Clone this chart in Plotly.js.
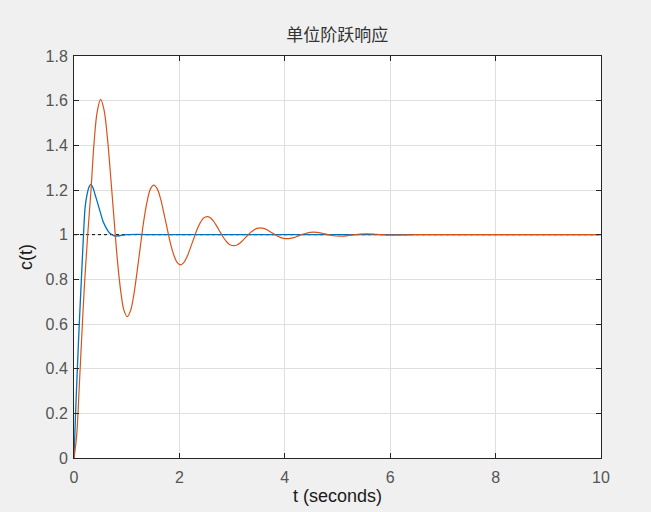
<!DOCTYPE html>
<html>
<head>
<meta charset="utf-8">
<script src="https://cdn.plot.ly/plotly-3.0.1.min.js"></script>
<style>html,body{margin:0;padding:0;background:#f0f0f0;}#chart{width:651px;height:512px;}</style>
</head>
<body>
<div id="chart"></div>
<script>
// System 1 (blue) step response
const tBlue = [0, 0.03, 0.06, 0.10, 0.14, 0.18, 0.21, 0.24, 0.28, 0.32, 0.36, 0.40, 0.45, 0.50, 0.55, 0.60, 0.65, 0.70, 0.78, 0.88, 1.00, 1.20, 1.50, 2, 3, 4, 5, 6, 7, 8, 9, 10];
const cBlue = [0, 0.20, 0.38, 0.60, 0.80, 1.00, 1.12, 1.17, 1.21, 1.225, 1.21, 1.18, 1.14, 1.10, 1.06, 1.035, 1.015, 1.003, 0.994, 0.996, 1.000, 1.001, 1.000, 1, 1, 1, 1, 1, 1, 1, 1, 1];

// System 2 (orange) step response
const tOrange = [0, 0.05, 0.10, 0.15, 0.20, 0.26, 0.32, 0.38, 0.44, 0.505, 0.568, 0.632, 0.694, 0.758, 0.820, 0.884, 0.947, 1.010, 1.073, 1.137, 1.199, 1.263, 1.325, 1.389, 1.451, 1.516, 1.578, 1.642, 1.704, 1.768, 1.830, 1.894, 1.956, 2.021, 2.083, 2.147, 2.209, 2.273, 2.335, 2.399, 2.461, 2.526, 2.587, 2.652, 2.713, 2.778, 2.840, 2.904, 2.966, 3.031, 3.092, 3.157, 3.218, 3.283, 3.345, 3.410, 3.471, 3.536, 3.597, 3.662, 3.723, 3.788, 3.849, 3.915, 3.975, 4.041, 4.100, 4.167, 4.230, 4.294, 4.350, 4.420, 4.480, 4.546, 4.610, 4.672, 4.730, 4.799, 4.925, 5.051, 5.177, 5.304, 5.430, 5.556, 5.682, 5.809, 5.935, 6.061, 6.5, 7, 8, 9, 10];
const cOrange = [0, 0.10, 0.32, 0.56, 0.78, 1.00, 1.19, 1.41, 1.55, 1.606, 1.561, 1.438, 1.266, 1.075, 0.895, 0.752, 0.662, 0.633, 0.660, 0.734, 0.838, 0.954, 1.064, 1.150, 1.205, 1.222, 1.206, 1.161, 1.098, 1.028, 0.961, 0.909, 0.876, 0.865, 0.875, 0.902, 0.941, 0.983, 1.023, 1.055, 1.075, 1.081, 1.076, 1.059, 1.036, 1.010, 0.986, 0.966, 0.954, 0.951, 0.954, 0.964, 0.978, 0.994, 1.009, 1.020, 1.028, 1.030, 1.028, 1.022, 1.013, 1.004, 0.995, 0.988, 0.983, 0.982, 0.983, 0.987, 0.992, 0.998, 1.003, 1.007, 1.010, 1.011, 1.010, 1.008, 1.005, 1.001, 0.995, 0.993, 0.995, 0.999, 1.003, 1.004, 1.003, 1.000, 0.998, 0.998, 1.000, 1.000, 1, 1, 1];

// steady-state reference line
const tRef = [0, 10];
const cRef = [1, 1];

const traces = [
  {x: tRef, y: cRef, mode: 'lines', line: {color: '#000000', width: 1, dash: 'dot'}, hoverinfo: 'skip', showlegend: false},
  {x: tBlue, y: cBlue, mode: 'lines', line: {color: '#0072BD', width: 1.3, shape: 'spline', smoothing: 0.8}, showlegend: false},
  {x: tOrange, y: cOrange, mode: 'lines', line: {color: '#D95319', width: 1.2, shape: 'spline', smoothing: 1}, showlegend: false}
];

const axisCommon = {
  showline: true, linecolor: '#262626', linewidth: 1, mirror: 'ticks',
  ticks: 'inside', ticklen: 5, tickcolor: '#262626',
  showgrid: true, gridcolor: '#dfdfdf', gridwidth: 1, zeroline: false,
  tickfont: {family: 'Liberation Sans, Arial, sans-serif', size: 16, color: '#555555'}
};

const layout = {
  width: 651, height: 512,
  paper_bgcolor: '#f0f0f0', plot_bgcolor: '#ffffff',
  margin: {l: 74, r: 50, t: 56, b: 54},
  title: {text: '单位阶跃响应', x: 0.518, xanchor: 'center', y: 0.932, yanchor: 'middle',
          font: {family: 'Noto Sans CJK SC, sans-serif', size: 17, color: '#333333'}},
  xaxis: Object.assign({}, axisCommon, {range: [0, 10], tickmode: 'linear', tick0: 0, dtick: 2, ticklabelstandoff: 5,
          title: {text: 't (seconds)', standoff: 4, font: {family: 'Liberation Sans, Arial, sans-serif', size: 18, color: '#1a1a1a'}}}),
  yaxis: Object.assign({}, axisCommon, {range: [0, 1.8], tickmode: 'linear', tick0: 0, dtick: 0.2, ticklabelstandoff: 2,
          title: {text: 'c(t)', standoff: 8, font: {family: 'Liberation Sans, Arial, sans-serif', size: 18, color: '#1a1a1a'}}})
};

Plotly.newPlot('chart', traces, layout, {staticPlot: true, displayModeBar: false});
</script>
</body>
</html>
